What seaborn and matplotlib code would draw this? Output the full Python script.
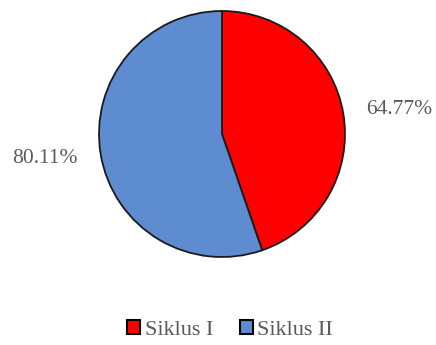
import matplotlib
matplotlib.use("Agg")
import matplotlib.pyplot as plt
import seaborn as sns
from matplotlib.patches import Patch

categories = ["Siklus I", "Siklus II"]
values = [64.77, 80.11]
labels = ["64.77%", "80.11%"]
colors = ["#FF0000", "#5D8CD0"]

sns.set_theme(style="white")
plt.rcParams['font.family'] = ['Liberation Serif', 'DejaVu Serif']

fig = plt.figure(figsize=(4.36, 3.45), dpi=100)
W, H = 436, 345
cx, cy, r = 222, 134, 123
ax = fig.add_axes([(cx - r) / W, 1 - (cy + r) / H, 2 * r / W, 2 * r / H])
wedges, texts = ax.pie(values, labels=labels, colors=colors, startangle=90,
                       counterclock=False, labeldistance=1.19,
                       wedgeprops=dict(edgecolor="#1a1a1a", linewidth=1.3),
                       textprops=dict(fontsize=15.5, color="#595959"))
ax.set_aspect("equal")
ax.set_xlim(-1, 1)
ax.set_ylim(-1, 1)

handles = [Patch(facecolor=c, edgecolor="black", linewidth=1.5) for c in colors]
fig.legend(handles, categories, loc="center", bbox_to_anchor=(230 / W, 1 - 330 / H),
           ncol=2, frameon=False, fontsize=16, labelcolor="#595959",
           handlelength=0.6, handleheight=0.6, handletextpad=0.2, columnspacing=1.2)

fig.savefig("out.png", dpi=100)
